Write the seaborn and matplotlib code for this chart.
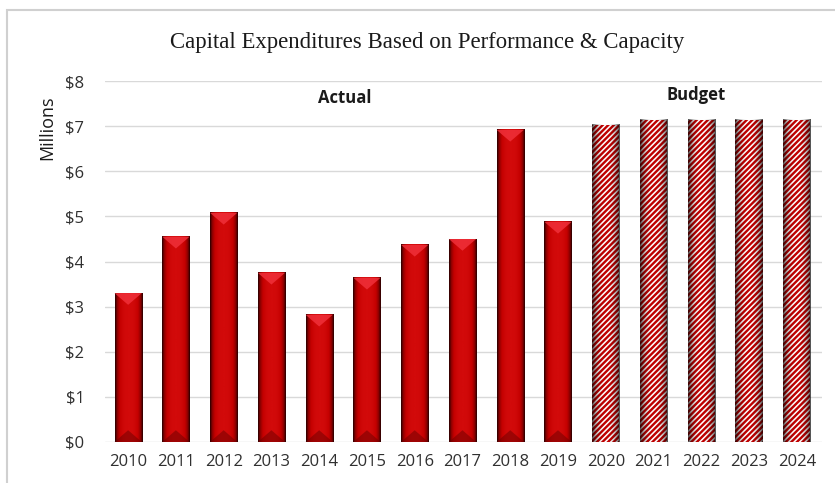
import matplotlib
matplotlib.use("Agg")
import matplotlib.pyplot as plt
import numpy as np
import pandas as pd
import seaborn as sns
from matplotlib.patches import Polygon, Rectangle

years = ["2010", "2011", "2012", "2013", "2014", "2015", "2016", "2017",
         "2018", "2019", "2020", "2021", "2022", "2023", "2024"]
actual = [3.30, 4.55, 5.08, 3.75, 2.82, 3.64, 4.37, 4.50, 6.92, 4.88]
budget = [7.03, 7.14, 7.14, 7.14, 7.14]
yticks = [0, 1, 2, 3, 4, 5, 6, 7, 8]

sns.set_style("white")
plt.rcParams["hatch.linewidth"] = 1.7
plt.rcParams["hatch.color"] = "#c00000"

df = pd.DataFrame({"year": years, "value": actual + budget})
n_actual = len(actual)

fig = plt.figure(figsize=(8.35, 4.83), dpi=100)
ax = fig.add_axes([0.126, 0.085, 0.858, 0.747])

sns.barplot(data=df, x="year", y="value", color="#c00000", width=0.57,
            saturation=1, ax=ax, zorder=3)

# horizontal shading: dark edges, bright centre
t = np.linspace(-1, 1, 64)
shade = np.abs(t) ** 2.5
edge_cmap = matplotlib.colors.LinearSegmentedColormap.from_list(
    "bar", ["#d20a0a", "#c40000", "#8a0000", "#2a0000"])

for i, p in enumerate(ax.patches):
    x0, w, h = p.get_x(), p.get_width(), p.get_height()
    if i < n_actual:
        p.set_edgecolor("none")
        ax.imshow(shade[None, :], cmap=edge_cmap, vmin=0, vmax=1,
                  extent=[x0, x0 + w, 0, h], aspect="auto", zorder=4,
                  clip_path=p, clip_on=True)
        # top bevel chevron
        bev = 0.13
        ax.add_patch(Polygon([(x0, h), (x0 + w, h), (x0 + w * 0.5, h - 2 * bev)],
                             closed=True, facecolor="#f0303a", edgecolor="none",
                             alpha=0.85, zorder=5))
        # darker base
        ax.add_patch(Polygon([(x0, 0), (x0 + w, 0), (x0 + w * 0.5, 2 * bev)],
                             closed=True, facecolor="#6a0000", edgecolor="none",
                             alpha=0.5, zorder=5))
    else:
        p.set_facecolor("white")
        p.set_hatch("//////")
        p.set_edgecolor("#c00000")
        p.set_linewidth(0)
        rgba = np.zeros((1, 64, 4))
        rgba[0, :, 3] = shade * 0.7
        ax.imshow(rgba, extent=[x0, x0 + w, 0, h], aspect="auto", zorder=4,
                  clip_path=p, clip_on=True)

ax.set_xlim(-0.48, 14.52)
ax.set_ylim(0, 8)
ax.set_yticks(yticks)
ax.set_yticklabels([f"${v}" for v in yticks])
ax.yaxis.grid(True, color="#d9d9d9", linewidth=1)
ax.set_axisbelow(True)
for s in ax.spines.values():
    s.set_visible(False)
ax.tick_params(axis="both", length=0, labelsize=12, colors="#303030", pad=9)
ax.tick_params(axis="y", pad=15)
for lbl in ax.get_xticklabels() + ax.get_yticklabels():
    lbl.set_fontfamily("Open Sans")
ax.set_xlabel("")
ax.set_ylabel("")

ax.text(4.54, 7.63, "Actual", ha="center", va="center", fontsize=12,
        fontweight="bold", family="Open Sans", color="#1a1a1a")
ax.text(11.9, 7.69, "Budget", ha="center", va="center", fontsize=12,
        fontweight="bold", family="Open Sans", color="#1a1a1a")

fig.text(0.512, 0.913, "Capital Expenditures Based on Performance & Capacity",
         ha="center", va="center", fontsize=16.4, family="Liberation Serif",
         color="#1a1a1a")
fig.text(0.057, 0.735, "Millions", rotation=90, ha="center", va="center",
         fontsize=13, family="Open Sans", color="#1a1a1a")

# chart frame
fig.patches.append(Rectangle((0.008, -0.05), 1.1, 1.03, transform=fig.transFigure,
                             fill=False, edgecolor="#d0d0d0", linewidth=1.5))

fig.savefig("out.png", dpi=100)
